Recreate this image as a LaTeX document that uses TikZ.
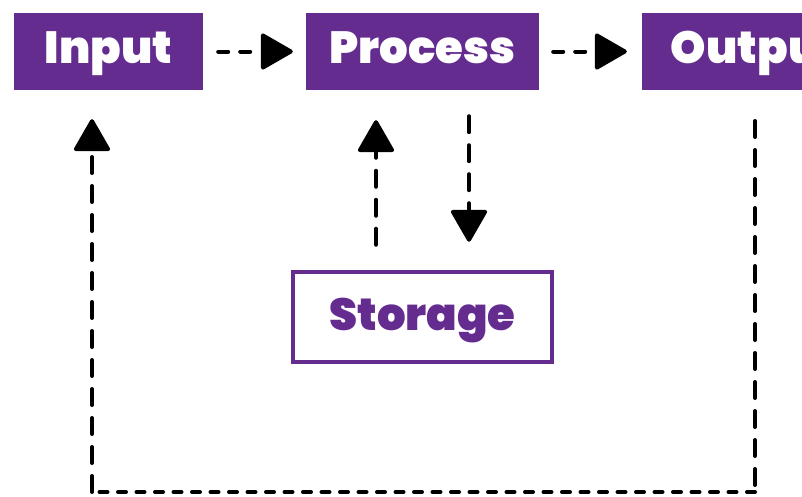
\documentclass[tikz,border=0pt]{standalone}
\usepackage{fontspec}
\setmainfont{Poppins}[BoldFont={Poppins Black}]
\usetikzlibrary{arrows.meta}
\definecolor{purp}{RGB}{101,44,144}
\begin{document}
\begin{tikzpicture}[x=1pt,y=-1pt,
  pbox/.style={fill=purp,draw=none,inner sep=0pt,minimum height=77pt,text=white,
    text height=23pt,text depth=0pt,
    font=\fontsize{45}{50}\selectfont\bfseries},
  sbox/.style={fill=white,draw=purp,line width=4.5pt,inner sep=0pt,minimum width=259pt,minimum height=90pt,text=purp,
    text height=26pt,text depth=0pt,
    font=\fontsize{45}{50}\selectfont\bfseries},
  conn/.style={line width=4pt,line cap=round,-{Triangle[length=34pt,width=38pt,round=false]}},
  vdash/.style={dash pattern=on 16pt off 13pt},
  hdash/.style={dash pattern=on 10pt off 12pt},
  bdash/.style={dash pattern=on 8pt off 10.5pt}]
\useasboundingbox (0,0) rectangle (802,496);
\node[pbox,minimum width=189pt] (inp) at (108.5,51.5) {Input};
\node[pbox,minimum width=233pt] (proc) at (422.5,51.5) {Process};
\node[pbox,minimum width=226pt] (outp) at (755,51.5) {Output};
\node[sbox] (stor) at (422.5,317) {Storage};
\draw[conn,hdash,shorten <=15pt,shorten >=13pt] (inp.east) -- (proc.west);
\draw[conn,hdash,shorten <=14pt,shorten >=15pt] (proc.east) -- (outp.west);
\draw[conn,vdash,shorten <=25pt,shorten >=30pt] (stor.north -| 376,0) -- (proc.south -| 376,0);
\draw[conn,vdash,shorten <=26pt,shorten >=28pt] (proc.south -| 469,0) -- (stor.north -| 469,0);
\coordinate (ls) at (755,121);
\coordinate (lc1) at (755,492);
\coordinate (lc2) at (92,492);
\draw[line width=4pt,line cap=round,vdash] (ls) -- (lc1);
\draw[line width=4pt,line cap=round,bdash] (lc1) -- (lc2);
\draw[conn,vdash,shorten >=29pt] (lc2) -- (inp.south -| 92,0);
\end{tikzpicture}
\end{document}
